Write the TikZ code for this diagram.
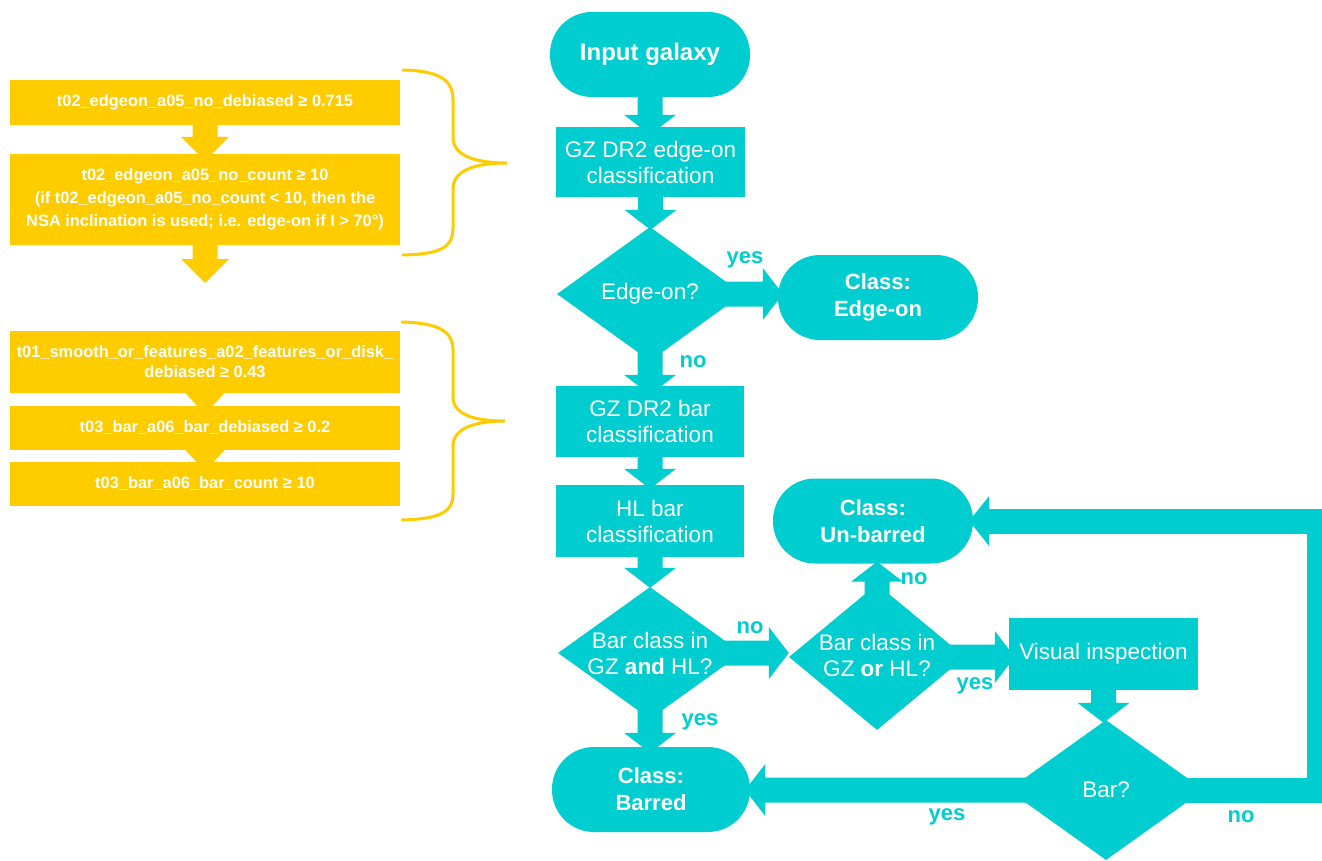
\documentclass[tikz,border=0pt]{standalone}
\usepackage{fontspec}
\setmainfont{Liberation Sans}
\usetikzlibrary{calc,backgrounds,shapes.geometric}
\definecolor{tl}{RGB}{0,205,208}
\definecolor{yl}{RGB}{255,204,0}
\def\myhw{26pt}\def\myhl{20pt}\def\mysw{12.5pt}
\newcommand\arrD[3][tl]{\fill[#1] let \p1=#2, \p2=#3 in
 (\x1-\mysw,\y1) -- (\x1-\mysw,\y2+\myhl) -- (\x1-\myhw,\y2+\myhl) -- (\x1,\y2) -- (\x1+\myhw,\y2+\myhl) -- (\x1+\mysw,\y2+\myhl) -- (\x1+\mysw,\y1) -- cycle;}
\newcommand\arrU[3][tl]{\fill[#1] let \p1=#2, \p2=#3 in
 (\x1-\mysw,\y1) -- (\x1-\mysw,\y2-\myhl) -- (\x1-\myhw,\y2-\myhl) -- (\x1,\y2) -- (\x1+\myhw,\y2-\myhl) -- (\x1+\mysw,\y2-\myhl) -- (\x1+\mysw,\y1) -- cycle;}
\newcommand\arrR[3][tl]{\fill[#1] let \p1=#2, \p2=#3 in
 (\x1,\y1-\mysw) -- (\x2-\myhl,\y1-\mysw) -- (\x2-\myhl,\y1-\myhw) -- (\x2,\y1) -- (\x2-\myhl,\y1+\myhw) -- (\x2-\myhl,\y1+\mysw) -- (\x1,\y1+\mysw) -- cycle;}
\newcommand\arrL[3][tl]{\fill[#1] let \p1=#2, \p2=#3 in
 (\x1,\y1-\mysw) -- (\x2+\myhl,\y1-\mysw) -- (\x2+\myhl,\y1-\myhw) -- (\x2,\y1) -- (\x2+\myhl,\y1+\myhw) -- (\x2+\myhl,\y1+\mysw) -- (\x1,\y1+\mysw) -- cycle;}
\tikzset{
 stad/.style={fill=tl, text=white, rounded corners=42pt, minimum width=200pt, minimum height=85pt, inner sep=0pt, align=center, font=\fontsize{22}{27}\selectfont\bfseries},
 tbox/.style={fill=tl, text=white, minimum width=188pt, minimum height=71pt, inner sep=0pt, align=center, font=\fontsize{22.5}{26}\selectfont},
 dia/.style={diamond, fill=tl, inner sep=0pt},
 dtxt/.style={text=white, align=center, inner sep=0pt, font=\fontsize{22.5}{26}\selectfont},
 lab/.style={text=tl, inner sep=0pt, font=\fontsize{22}{26}\selectfont\bfseries},
 ybox/.style={fill=yl, text=white, minimum width=390pt, inner sep=0pt, align=center, font=\fontsize{16.4}{23}\selectfont\bfseries},
 brace/.style={draw=yl, line width=3pt, line cap=round}
}
\begin{document}
\begin{tikzpicture}[x=1pt,y=-1pt]
\useasboundingbox (0,0) rectangle (1322,861);
% teal nodes
\node[stad, font=\fontsize{24}{28}\selectfont\bfseries] (inp) at (650,54.5) {Input galaxy};
\node[tbox, minimum width=189pt, minimum height=70pt] (gz1) at (650.5,162) {GZ DR2 edge-on\\classification};
\node[dia, minimum width=186pt, minimum height=134pt] (d1) at (650,294) {};
\node[dtxt] (d1t) at (650,294) {Edge-on?};
\node[stad] (ceo) at (878,297.5) {Class:\\Edge-on};
\node[tbox] (gz2) at (650,421.5) {GZ DR2 bar\\classification};
\node[tbox, minimum height=72pt] (hl) at (650,521) {HL bar\\classification};
\node[dia, minimum width=184pt, minimum height=132pt] (d2) at (650,653) {};
\node[dtxt] (d2t) at (650,653) {Bar class in\\GZ \textbf{and} HL?};
\node[stad, minimum width=198pt] (bar) at (651,789.5) {Class:\\Barred};
\node[dia, minimum width=176pt, minimum height=146pt] (d3) at (877,657) {};
\node[dtxt] (d3t) at (877,655) {Bar class in\\GZ \textbf{or} HL?};
\node[stad] (unb) at (873,521) {Class:\\Un-barred};
\node[tbox, minimum width=189pt, minimum height=72pt] (vis) at (1103.5,654) {Visual inspection};
\node[dia, minimum width=196pt, minimum height=140pt] (d4) at (1106,790) {};
\node[dtxt] (d4t) at (1106,790) {Bar?};
% labels
\node[lab] (l1) at (745,260) {yes};
\node[lab] (l2) at (693,362) {no};
\node[lab] (l3) at (750,628) {no};
\node[lab] (l4) at (700,722) {yes};
\node[lab] (l5) at (914,579) {no};
\node[lab] (l6) at (975,686) {yes};
\node[lab] (l7) at (947,817) {yes};
\node[lab] (l8) at (1241,817) {no};
% yellow nodes
\node[ybox, minimum height=45pt] (y1) at (205,102.5) {t02\_edgeon\_a05\_no\_debiased ≥ 0.715};
\node[ybox, minimum height=91pt] (y2) at (205,199.5) {t02\_edgeon\_a05\_no\_count ≥ 10\\(if t02\_edgeon\_a05\_no\_count < 10, then the\\NSA inclination is used; i.e. edge-on if I > 70°)};
\coordinate (yend) at (205,283);
\node[ybox, minimum height=62pt, font=\fontsize{16.4}{20}\selectfont\bfseries] (yA) at (205,362) {t01\_smooth\_or\_features\_a02\_features\_or\_disk\_\\debiased ≥ 0.43};
\node[ybox, minimum height=44pt] (yB) at (205,428) {t03\_bar\_a06\_bar\_debiased ≥ 0.2};
\node[ybox, minimum height=44pt] (yC) at (205,484) {t03\_bar\_a06\_bar\_count ≥ 10};
% braces
\draw[brace] (403,70) .. controls (440,71) and (453,80) .. (453,100) -- (453,137) .. controls (453,157) and (478,163) .. (507,163) .. controls (478,163) and (453,169) .. (453,189) -- (453,228) .. controls (453,248) and (440,254) .. (403,255);
\draw[brace] (402,322) .. controls (440,323) and (453,332) .. (453,350) -- (453,397) .. controls (453,416) and (478,421) .. (505,421) .. controls (478,421) and (453,427) .. (453,446) -- (453,494) .. controls (453,512) and (440,519) .. (402,520);
\begin{scope}[on background layer]
\fill[white] (0,0) rectangle (1322,861);
\arrD{(inp.center)}{($(gz1.north)+(0,8)$)}
\arrD{(gz1.center)}{($(d1.north)+(0,3)$)}
\arrR{(d1.center)}{($(ceo.west)+(5,0)$)}
\arrD{(d1.center)}{($(gz2.north)+(0,9)$)}
\arrD{(gz2.center)}{($(hl.north)+(0,4)$)}
\arrD{(hl.center)}{($(d2.north)+(0,1)$)}
\arrD{(d2.center)}{($(bar.north)+(0,6)$)}
\arrR{(d2.center)}{(d3.west)}
\arrU{(d3.center)}{($(unb.south)+(0,-2)$)}
\arrR{(d3.center)}{($(vis.west)+(6,0)$)}
\arrD{(vis.center)}{($(d4.north)+(0,3)$)}
\arrL{(d4.center)}{($(bar.east)+(-5,0)$)}
\coordinate (cR) at (1319.5,521);
\coordinate (hb) at ($(unb.east)+(16,0)$);
\draw[tl, line width=25pt, line join=miter] (d4.center) -| (cR) -- (hb);
\fill[tl] ($(hb)+(0,-25)$) -- ($(unb.east)+(-4,0)$) -- ($(hb)+(0,25)$) -- cycle;
\def\myhw{24pt}\def\myhl{24pt}
\arrD[yl]{(y1.center)}{($(y2.north)+(0,7)$)}
\arrD[yl]{(y2.center)}{(yend)}
\fill[yl] ($(yA.south)+(-19.5,0)$) -- ($(yA.south)+(19.5,0)$) -- ($(yA.south)+(0,21)$) -- cycle;
\fill[yl] ($(yB.south)+(-19.5,0)$) -- ($(yB.south)+(19.5,0)$) -- ($(yB.south)+(0,21)$) -- cycle;
\end{scope}
\end{tikzpicture}
\end{document}
